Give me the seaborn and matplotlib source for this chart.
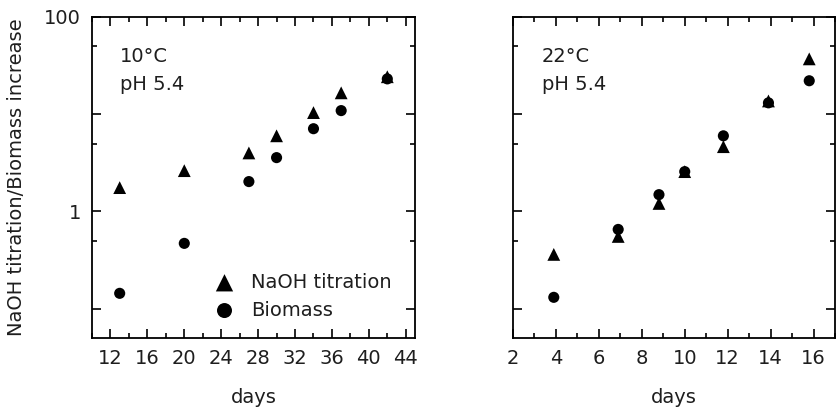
import numpy as np
import pandas as pd
import matplotlib
matplotlib.use("Agg")
import matplotlib.pyplot as plt
import seaborn as sns
from matplotlib.ticker import FixedLocator, FuncFormatter, NullFormatter, MultipleLocator

# ---- data ----
days_10 = [13, 20, 27, 30, 34, 37, 42]
naoh_10 = [1.76, 2.63, 4.0, 6.0, 10.4, 16.6, 24.3]
bio_10 = [0.144, 0.47, 2.03, 3.58, 7.1, 10.9, 23.1]

days_22 = [3.9, 6.9, 8.8, 10.0, 11.8, 13.9, 15.8]
naoh_22 = [0.362, 0.554, 1.21, 2.57, 4.64, 13.7, 37.1]
bio_22 = [0.131, 0.654, 1.49, 2.57, 6.0, 13.1, 22.1]

series_names = ["NaOH titration", "Biomass"]
panel_texts = ["10°C\npH 5.4", "22°C\npH 5.4"]
y_major = [0.1, 1, 10, 100]
y_minor = [0.5, 5, 50]
y_labels = {1: "1", 100: "100"}

sns.set_style("ticks")
plt.rcParams["font.family"] = ["DejaVu Sans"]
TXT = "#1e1e1e"
FS = 14

fig = plt.figure(figsize=(8.36, 4.12), dpi=100)
ax1 = fig.add_axes([92 / 836, 74 / 412, 323 / 836, 321 / 412])
ax2 = fig.add_axes([513 / 836, 74 / 412, 322 / 836, 321 / 412])

def panel(ax, days, naoh, bio):
    df_n = pd.DataFrame({"days": days, "value": naoh})
    df_b = pd.DataFrame({"days": days, "value": bio})
    sns.scatterplot(data=df_n, x="days", y="value", marker="^", s=85, color="black",
                    edgecolor="none", ax=ax, label=series_names[0], legend=False)
    sns.scatterplot(data=df_b, x="days", y="value", marker="o", s=64, color="black",
                    edgecolor="none", ax=ax, label=series_names[1], legend=False)
    ax.set_yscale("log")
    ax.set_ylim(0.05, 100)
    ax.yaxis.set_major_locator(FixedLocator(y_major))
    ax.yaxis.set_minor_locator(FixedLocator(y_minor))
    ax.yaxis.set_minor_formatter(NullFormatter())
    for s in ax.spines.values():
        s.set_visible(True)
        s.set_linewidth(1.3)
        s.set_color("black")
    ax.tick_params(which="both", direction="in", top=True, right=True,
                   width=1.2, colors="black", labelcolor=TXT, labelsize=FS)
    ax.tick_params(which="major", length=6.5, pad=8)
    ax.tick_params(which="minor", length=3.8)
    ax.set_xlabel("days", fontsize=FS, color=TXT, labelpad=14)
    ax.set_ylabel("")

panel(ax1, days_10, naoh_10, bio_10)
panel(ax2, days_22, naoh_22, bio_22)

ax1.set_xlim(10, 45)
ax1.xaxis.set_major_locator(MultipleLocator(4))
ax1.xaxis.set_minor_locator(MultipleLocator(2))
ax1.xaxis.set_major_formatter(FuncFormatter(lambda v, p: f"{int(round(v))}" if 11 < v < 45 else ""))
ax1.yaxis.set_major_formatter(FuncFormatter(lambda v, p: y_labels.get(int(round(v)) if v >= 1 else -1, "")))
ax1.set_ylabel("NaOH titration/Biomass increase", fontsize=FS, color=TXT, labelpad=13)

ax2.set_xlim(2, 17)
ax2.xaxis.set_major_locator(MultipleLocator(2))
ax2.xaxis.set_minor_locator(MultipleLocator(1))
ax2.yaxis.set_major_formatter(NullFormatter())

ax1.text(0.087, 0.905, panel_texts[0], transform=ax1.transAxes, fontsize=FS,
         color=TXT, va="top", ha="left", linespacing=1.6)
ax2.text(0.089, 0.905, panel_texts[1], transform=ax2.transAxes, fontsize=FS,
         color=TXT, va="top", ha="left", linespacing=1.6)

leg = ax1.legend(frameon=False, loc="center left", bbox_to_anchor=(0.35, 0.13),
                 borderpad=0, handlelength=1.0, handletextpad=0.85, labelspacing=0.45,
                 fontsize=FS, markerscale=1.35)
for t in leg.get_texts():
    t.set_color(TXT)

fig.savefig("out.png", dpi=100)
